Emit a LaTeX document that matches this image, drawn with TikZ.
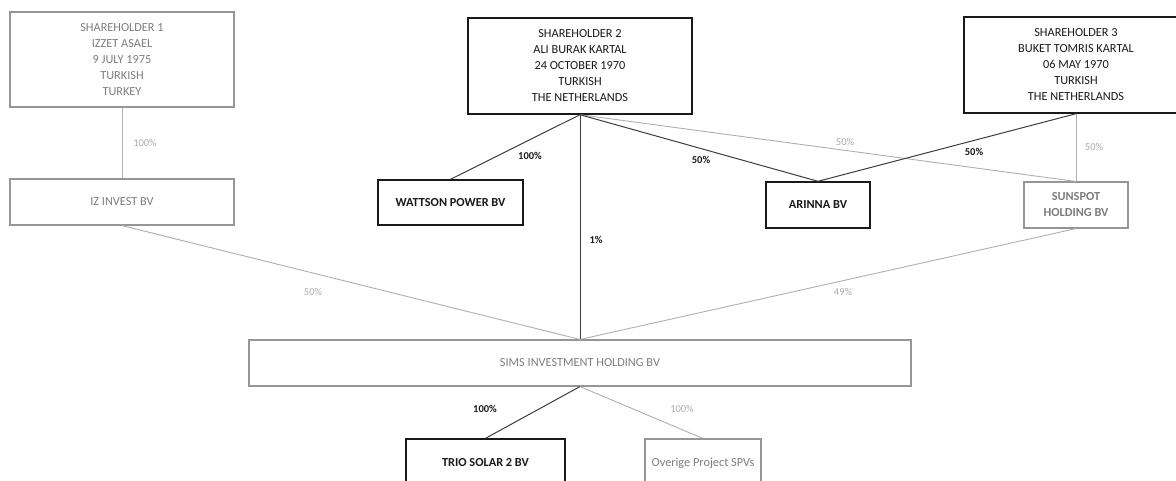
\documentclass[tikz,border=0pt]{standalone}
\usepackage{fontspec}
\setmainfont{Carlito}
\definecolor{bordergray}{RGB}{150,150,150}
\definecolor{textgray}{RGB}{125,125,125}
\definecolor{linegray}{RGB}{175,175,175}
\definecolor{labelgray}{RGB}{170,170,170}
\definecolor{ink}{RGB}{25,25,25}
\tikzset{
  gbox/.style={draw=bordergray, line width=1.1pt, inner sep=0pt, align=center, text=textgray, font=\fontsize{12.3}{16}\selectfont},
  kbox/.style={draw=ink, line width=1.4pt, inner sep=0pt, align=center, text=ink, font=\fontsize{12.3}{16}\selectfont},
  gline/.style={draw=linegray, line width=0.9pt},
  kline/.style={draw=ink!85, line width=1.0pt},
  glabel/.style={text=labelgray, font=\fontsize{10.5}{12}\selectfont, inner sep=0pt},
  klabel/.style={text=ink, font=\fontsize{10.5}{12}\selectfont\bfseries, inner sep=0pt}
}
\begin{document}
\begin{tikzpicture}[x=1pt,y=-1pt]
\path[use as bounding box] (0,0) rectangle (1176,480);
\clip (0,0) rectangle (1176,480);
% boxes
\node[gbox, minimum width=224, minimum height=95] (sh1) at (122,59.5)
  {SHAREHOLDER 1\\IZZET ASAEL\\9 JULY 1975\\TURKISH\\TURKEY};
\node[kbox, minimum width=224, minimum height=96] (sh2) at (580,66)
  {SHAREHOLDER 2\\ALI BURAK KARTAL\\24 OCTOBER 1970\\TURKISH\\THE NETHERLANDS};
\node[kbox, minimum width=224, minimum height=96] (sh3) at (1076,65)
  {SHAREHOLDER 3\\BUKET TOMRIS KARTAL\\06 MAY 1970\\TURKISH\\THE NETHERLANDS};
\node[gbox, minimum width=224, minimum height=46] (iz) at (122,202) {IZ INVEST BV};
\node[kbox, minimum width=145, minimum height=45, font=\fontsize{12.3}{16}\selectfont\bfseries] (watt) at (450.5,202.5) {WATTSON POWER BV};
\node[kbox, minimum width=104, minimum height=46, font=\fontsize{12.3}{16}\selectfont\bfseries] (arinna) at (818,205) {ARINNA BV};
\node[gbox, minimum width=104, minimum height=46, font=\fontsize{12.3}{16}\selectfont\bfseries] (sun) at (1076,205) {SUNSPOT\\HOLDING BV};
\node[gbox, minimum width=662, minimum height=46] (sims) at (580,363) {SIMS INVESTMENT HOLDING BV};
\node[kbox, minimum width=159, minimum height=48, font=\fontsize{12.3}{16}\selectfont\bfseries] (trio) at (485.5,463) {TRIO SOLAR 2 BV};
\node[gbox, minimum width=116, minimum height=48] (over) at (703,463) {Overige Project SPVs};
% connectors
\draw[gline] (sh1.south) -- (iz.north);
\draw[gline] (sh2.south) -- (sun.north);
\draw[gline] (sh3.south) -- (sun.north);
\draw[kline] (sh2.south) -- (watt.north);
\draw[kline] (sh2.south) -- (arinna.north);
\draw[kline] (sh3.south) -- (arinna.north);
\draw[gline] (iz.south) -- (sims.north);
\draw[gline] (sun.south) -- (sims.north);
\draw[kline] (sh2.south) -- (sims.north);
\draw[kline] (sims.south) -- (trio.north);
\draw[gline] (sims.south) -- (over.north);
% labels
\node[glabel] (l1) at (145,143) {100\%};
\node[klabel] (l2) at (530,156) {100\%};
\node[klabel] (l3) at (701,160) {50\%};
\node[glabel] (l4) at (845,142) {50\%};
\node[klabel] (l5) at (974,152) {50\%};
\node[glabel] (l6) at (1094,147) {50\%};
\node[glabel] (l7) at (313,292) {50\%};
\node[klabel] (l8) at (596,240) {1\%};
\node[glabel] (l9) at (843,292) {49\%};
\node[klabel] (l10) at (485,409) {100\%};
\node[glabel] (l11) at (682,409) {100\%};
\end{tikzpicture}
\end{document}
